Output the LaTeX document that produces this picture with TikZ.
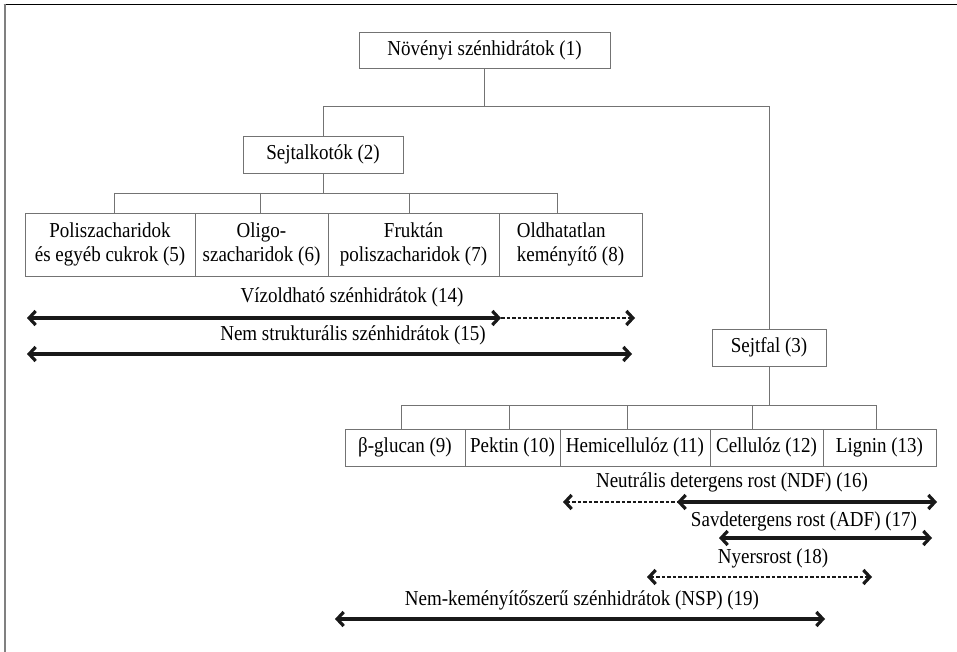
\documentclass[tikz,border=0pt]{standalone}
\usepackage{graphicx}
\usepackage{fontspec}
\setmainfont{Liberation Serif}
\usetikzlibrary{arrows.meta}
\definecolor{boxgray}{gray}{0.45}
\definecolor{framegray}{gray}{0.5}
\newcommand\vtxt[1]{\scalebox{1}[1.12]{#1}}
\tikzset{
  box/.style={draw=boxgray, line width=0.9pt, inner sep=0pt, align=center,
    font=\fontsize{19}{24}\selectfont},
  conn/.style={draw=boxgray, line width=0.9pt},
  lbl/.style={inner sep=0pt, font=\fontsize{19}{23}\selectfont},
  tip/.tip={Straight Barb[length=6.5pt,width=14pt,line width=3.2pt]},
  solidarrow/.style={line width=3.2pt, black!90},
  dasharrow/.style={line width=1.5pt, black!90, dash pattern=on 3.5pt off 2pt}
}
\begin{document}
\begin{tikzpicture}[x=1pt,y=-1pt]
\useasboundingbox (0,0) rectangle (957,652);
\fill[white] (0,0) rectangle (957,652);
% frame
\draw[black, line width=1.6pt] (3.5,4.5) -- (957,4.5);
\draw[framegray, line width=2pt] (4.5,4) -- (4.5,652);

% top boxes
\node[box, minimum width=251pt, minimum height=36pt] (n1) at (484.5,50) {\vtxt{Növényi szénhidrátok (1)}};
\node[box, minimum width=160pt, minimum height=37pt] (n2) at (323,154.5) {\vtxt{Sejtalkotók (2)}};
\node[box, minimum width=114pt, minimum height=37pt] (n3) at (769,347.5) {\vtxt{Sejtfal (3)}};

% row 1
\node[box, minimum width=170pt, minimum height=63pt] (n5) at (110,244.5) {\vtxt{Poliszacharidok}\\\vtxt{és egyéb cukrok (5)}};
\node[box, minimum width=133pt, minimum height=63pt] (n6) at (261.5,244.5) {\vtxt{Oligo-}\\\vtxt{szacharidok (6)}};
\node[box, minimum width=171pt, minimum height=63pt] (n7) at (413.5,244.5) {\vtxt{Fruktán}\\\vtxt{poliszacharidok (7)}};
\node[box, minimum width=143pt, minimum height=63pt, align=left] (n8) at (570.5,244.5) {\vtxt{Oldhatatlan}\\\vtxt{keményítő (8)}};

% row 2
\node[box, minimum width=120pt, minimum height=37pt] (n9) at (405,447.5) {\vtxt{β-glucan (9)}};
\node[box, minimum width=95pt, minimum height=37pt] (n10) at (512.5,447.5) {\vtxt{Pektin (10)}};
\node[box, minimum width=150pt, minimum height=37pt] (n11) at (635,447.5) {\vtxt{Hemicellulóz (11)}};
\node[box, minimum width=113pt, minimum height=37pt] (n12) at (766.5,447.5) {\vtxt{Cellulóz (12)}};
\node[box, minimum width=113pt, minimum height=37pt] (n13) at (879.5,447.5) {\vtxt{Lignin (13)}};

% connectors top
\coordinate (j1) at (484.5,107);
\draw[conn] (n1.south) -- (j1);
\draw[conn] (n2.north) -- ++(0,-29) -| (n3.north);

% connectors row 1
\coordinate (h5) at (114,193);
\coordinate (h6) at (260,193);
\coordinate (h7) at (409,193);
\coordinate (h8) at (557,193);
\draw[conn] (n2.south) -- (n2.south |- h5);
\draw[conn] (h5) -- (h8);
\draw[conn] (h5) -- (h5 |- n5.north);
\draw[conn] (h6) -- (h6 |- n6.north);
\draw[conn] (h7) -- (h7 |- n7.north);
\draw[conn] (h8) -- (h8 |- n8.north);

% connectors row 2
\coordinate (h9) at (401,405);
\coordinate (h10) at (509,405);
\coordinate (h11) at (627,405);
\coordinate (h12) at (752,405);
\coordinate (h13) at (876,405);
\draw[conn] (n3.south) -- (n3.south |- h9);
\draw[conn] (h9) -- (h13);
\draw[conn] (h9) -- (h9 |- n9.north);
\draw[conn] (h10) -- (h10 |- n10.north);
\draw[conn] (h11) -- (h11 |- n11.north);
\draw[conn] (h12) -- (h12 |- n12.north);
\draw[conn] (h13) -- (h13 |- n13.north);

% span arrows upper
\node[lbl] (t14) at (352,297) {\vtxt{Vízoldható szénhidrátok (14)}};
\coordinate (a14l) at (27,318);
\coordinate (a14m) at (501,318);
\coordinate (a14r) at (635,318);
\draw[solidarrow, tip-tip] (a14l) -- (a14m);
\draw[dasharrow, -tip] (a14m) -- (a14r);

\node[lbl] (t15) at (353,335) {\vtxt{Nem strukturális szénhidrátok (15)}};
\coordinate (a15l) at (27,354);
\coordinate (a15r) at (632,354);
\draw[solidarrow, tip-tip] (a15l) -- (a15r);

% span arrows lower
\node[lbl] (t16) at (732,482) {\vtxt{Neutrális detergens rost (NDF) (16)}};
\coordinate (a16l) at (563,502);
\coordinate (a16m) at (677,502);
\coordinate (a16r) at (937,502);
\draw[dasharrow, tip-] (a16l) -- (a16m);
\draw[solidarrow, tip-tip] (a16m) -- (a16r);

\node[lbl] (t17) at (804,521) {\vtxt{Savdetergens rost (ADF) (17)}};
\coordinate (a17l) at (719,538);
\coordinate (a17r) at (932,538);
\draw[solidarrow, tip-tip] (a17l) -- (a17r);

\node[lbl] (t18) at (773,558) {\vtxt{Nyersrost (18)}};
\coordinate (a18l) at (647,577);
\coordinate (a18r) at (872,577);
\draw[dasharrow, tip-tip] (a18l) -- (a18r);

\node[lbl] (t19) at (582,600) {\vtxt{Nem-keményítőszerű szénhidrátok (NSP) (19)}};
\coordinate (a19l) at (335,619);
\coordinate (a19r) at (825,619);
\draw[solidarrow, tip-tip] (a19l) -- (a19r);
\end{tikzpicture}
\end{document}
